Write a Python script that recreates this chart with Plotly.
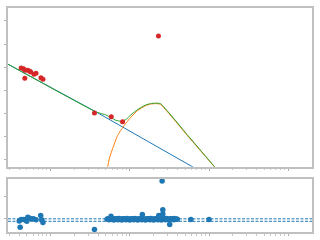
import plotly.graph_objects as go
from plotly.subplots import make_subplots

# ---- top panel data ----
obs_x = [0.425, 0.456, 0.477, 0.473, 0.516, 0.546, 0.562, 0.618, 0.655, 0.756, 0.801, 3.58, 5.84, 8.11, 23.0]
obs_y = [3.97, 3.93, 3.87, 3.52, 3.87, 3.83, 3.79, 3.70, 3.74, 3.54, 3.48, 2.03, 1.86, 1.65, 5.35]

blue_x = [0.290, 3.76, 100.0]
blue_y = [4.13, 2.07, -0.70]

orange_x = [5.08, 5.26, 5.55, 6.08, 7.02, 8.49, 10.3, 12.5, 15.8, 18.3, 21.1, 24.4, 53.1, 116.5, 137.0]
orange_y = [-0.64, -0.29, 0.09, 0.50, 1.06, 1.49, 1.84, 2.13, 2.34, 2.41, 2.43, 2.40, 1.06, -0.29, -0.58]

green_x = [0.290, 3.76, 5.01, 5.79, 6.68, 7.72, 8.91, 10.3, 12.5, 15.8, 18.3, 21.1, 24.4, 53.1, 117.0, 137.0]
green_y = [4.13, 2.07, 1.94, 1.82, 1.71, 1.67, 1.74, 1.94, 2.17, 2.37, 2.43, 2.45, 2.43, 1.09, -0.285, -0.55]

# ---- bottom panel data (residuals) ----
res_x = [0.402, 0.413, 0.425, 0.456, 0.477, 0.501, 0.516, 0.536, 0.562, 0.608, 0.655, 0.750, 0.772, 0.801,
         3.58,
         5.16, 5.31, 5.47, 5.62, 5.79, 5.96, 6.13, 6.31, 6.49, 6.68, 6.88, 7.08, 7.29, 7.50, 7.72, 7.94,
         8.17, 8.41, 8.66, 8.91, 9.17, 9.44, 9.72, 10.0, 10.3, 10.6, 10.9, 11.2, 11.5, 11.9, 12.2, 12.6,
         13.0, 13.3, 13.7, 14.1, 14.5, 15.0, 15.4, 15.8, 16.3, 16.8, 17.3, 17.8, 18.3, 18.8, 19.4, 20.0,
         20.5, 21.1, 21.8, 22.4, 23.0, 23.7, 24.4, 25.1, 25.8, 26.6, 27.4, 28.2, 29.0, 29.9, 30.7, 31.6,
         32.6, 33.5, 34.5, 35.5, 36.5, 37.6, 38.7, 39.8,
         5.79, 14.4, 25.6, 26.1, 26.1, 23.2, 31.9, 59.0, 100.0]
res_y = [-0.10, -0.37, -0.03, -0.03, -0.04, -0.11, 0.07, 0.04, 0.00, 0.00, -0.04, 0.15, -0.04, -0.16,
         -0.47,
         -0.02, 0.01, -0.04, 0.00, 0.02, -0.03, -0.01, -0.05, 0.01, -0.02, 0.00, -0.04, 0.02, -0.03,
         -0.01, -0.05, 0.01, -0.02, 0.00, -0.04, 0.02, -0.03, -0.01, -0.05, 0.01, -0.02, 0.00, -0.04,
         0.02, -0.03, -0.01, -0.05, 0.01, -0.02, 0.00, -0.04, 0.02, -0.03, -0.01, -0.05, 0.01, -0.02,
         0.00, -0.04, 0.02, -0.03, -0.01, -0.05, 0.01, -0.02, 0.00, -0.04, 0.02, -0.03, -0.01, -0.05,
         0.01, -0.02, 0.00, -0.04, 0.02, -0.03, -0.01, -0.05, 0.01, -0.02, 0.00, -0.04, 0.02, -0.03,
         -0.01, -0.02,
         0.12, 0.19, 1.69, 0.41, 0.22, 0.15, -0.25, -0.03, -0.03]

lim_x = [1.25, 1.64, 2.19]
lim_y = [-0.05, -0.05, -0.05]

ref_levels = [0.0, -0.11]

top_ticks = [0, 1, 2, 3, 4, 5, 6]
bot_ticks = [0, 1]

fig = make_subplots(rows=2, cols=1, shared_xaxes=False, vertical_spacing=0.0)

fig.add_trace(go.Scatter(x=blue_x, y=blue_y, mode="lines", line=dict(color="#1f77b4", width=1)), row=1, col=1)
fig.add_trace(go.Scatter(x=orange_x, y=orange_y, mode="lines", line=dict(color="#ff7f0e", width=1, shape="spline", smoothing=0.4)), row=1, col=1)
fig.add_trace(go.Scatter(x=green_x, y=green_y, mode="lines", line=dict(color="#2ca02c", width=1, shape="spline", smoothing=0.4)), row=1, col=1)
fig.add_trace(go.Scatter(x=obs_x, y=obs_y, mode="markers", marker=dict(color="#d62728", size=5)), row=1, col=1)

for lv in ref_levels:
    fig.add_trace(go.Scatter(x=[0.29, 1995], y=[lv, lv], mode="lines",
                             line=dict(color="#1f77b4", width=1, dash="3px,1.5px")), row=2, col=1)
fig.add_trace(go.Scatter(x=res_x, y=res_y, mode="markers", marker=dict(color="#1f77b4", size=5.5)), row=2, col=1)
fig.add_trace(go.Scatter(x=lim_x, y=lim_y, mode="markers",
                         marker=dict(color="rgba(0,0,0,0)", size=3, symbol="square-open",
                                     line=dict(color="#ff7f0e", width=1))), row=2, col=1)

H = 240 - 6 - 7
top_dom = [(233 - 167) / H, 1.0]
bot_dom = [0.0, (233 - 179) / H]

axis_common = dict(showgrid=False, zeroline=False, showline=True, linecolor="#c0c0c0", linewidth=2,
                   mirror=True, ticks="outside", ticklen=2, tickcolor="#b0b0b0", tickwidth=1,
                   showticklabels=False)

fig.update_xaxes(type="log", range=[-0.5375, 3.3], dtick=1,
                 minor=dict(ticks="outside", ticklen=1.5, tickcolor="#c8c8c8", dtick="D1"),
                 **axis_common)
fig.update_yaxes(**axis_common)
fig.update_yaxes(domain=top_dom, range=[-0.298, 6.553], tickvals=top_ticks, row=1, col=1)
fig.update_yaxes(domain=bot_dom, range=[-0.586, 1.79], tickvals=bot_ticks, row=2, col=1)

fig.update_layout(width=320, height=240, margin=dict(l=6, r=7, t=6, b=7),
                  paper_bgcolor="white", plot_bgcolor="white", showlegend=False)

fig.write_html("out.html")
